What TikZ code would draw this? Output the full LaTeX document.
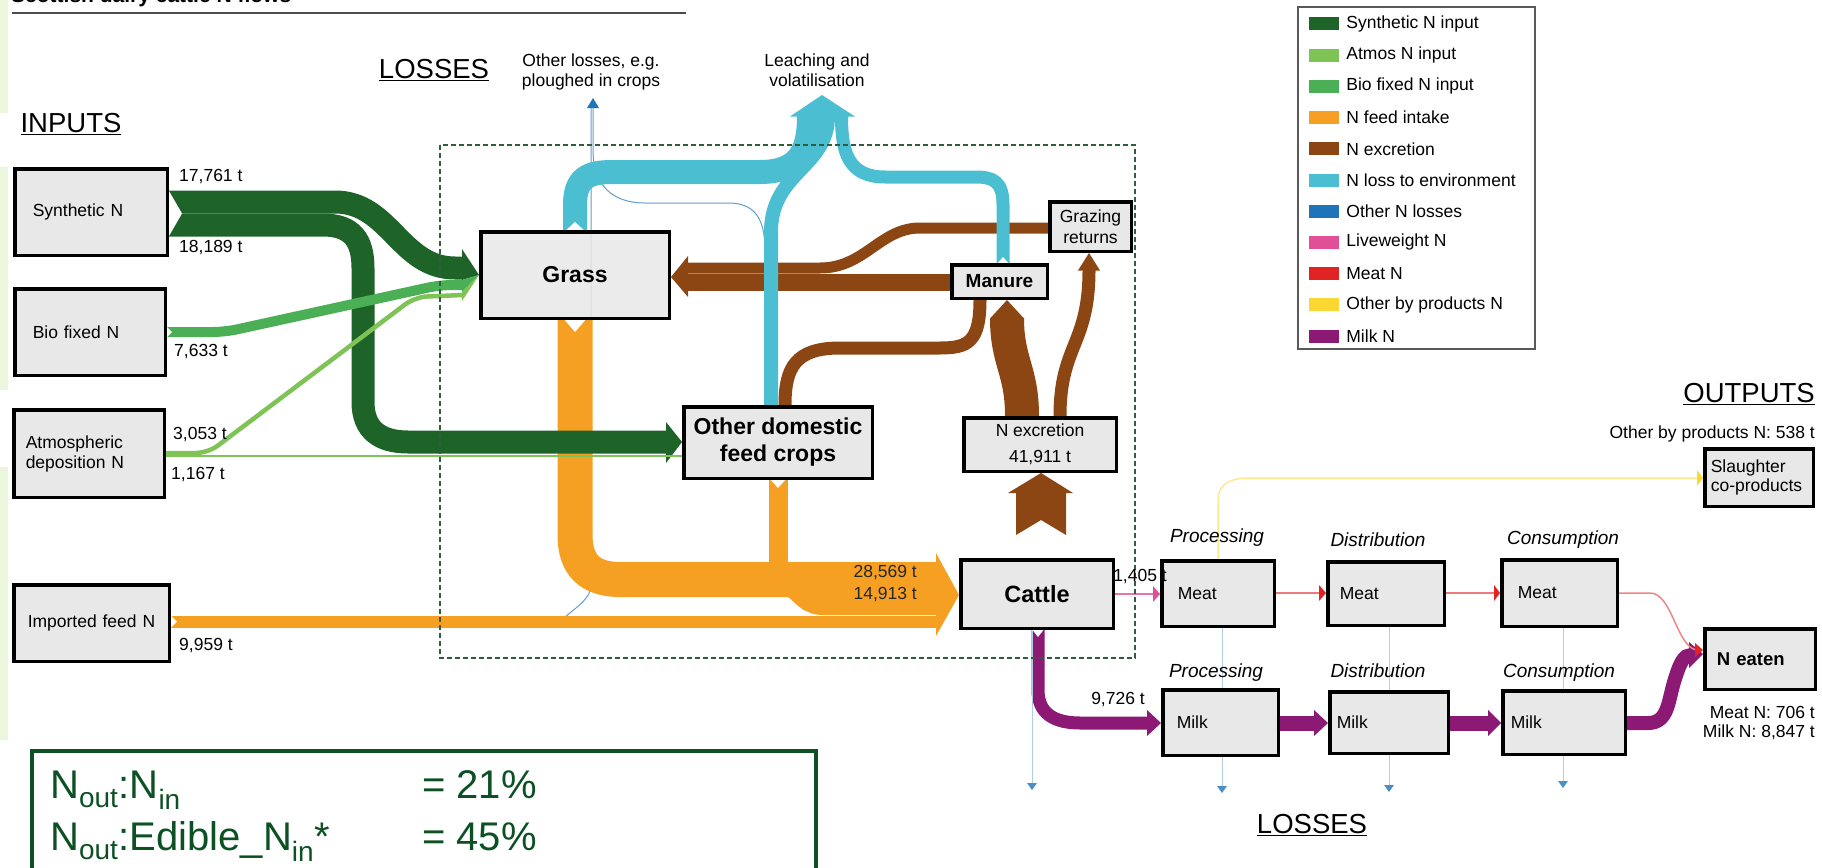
\documentclass[tikz,border=0pt]{standalone}
\usepackage{fontspec}
\setmainfont{Liberation Sans}
\usetikzlibrary{positioning,calc}
\pgfdeclarelayer{flows}
\pgfsetlayers{flows,main}

\definecolor{synN}{RGB}{30,100,40}
\definecolor{atmN}{RGB}{125,195,85}
\definecolor{bioN}{RGB}{75,175,85}
\definecolor{feedN}{RGB}{245,160,35}
\definecolor{excN}{RGB}{140,70,20}
\definecolor{lossN}{RGB}{75,190,210}
\definecolor{otherN}{RGB}{30,115,185}
\definecolor{liveN}{RGB}{225,80,150}
\definecolor{meatN}{RGB}{225,35,35}
\definecolor{byN}{RGB}{250,215,50}
\definecolor{milkN}{RGB}{140,25,115}
\definecolor{boxgray}{RGB}{232,232,232}
\definecolor{ratiogreen}{RGB}{12,80,35}
\definecolor{edgegreen}{RGB}{234,247,220}
\definecolor{boundgreen}{RGB}{46,94,62}

\begin{document}
\begin{tikzpicture}[
    x=1pt, y=-1pt,
    box/.style={draw=black, line width=3.5pt, fill=boxgray, inner sep=0pt, align=center, font=\fontsize{17.5}{21}\selectfont},
    sz/.style 2 args={minimum width=#1pt-3.5pt, minimum height=#2pt-3.5pt},
    lbox/.style 2 args={box, align=left, inner xsep=#1pt, text width=#2pt},
    bigbox/.style={box, font=\fontsize{23}{27}\selectfont\bfseries},
    lab/.style={inner sep=0pt, font=\fontsize{17.5}{20}\selectfont},
    stage/.style={inner sep=0pt, font=\fontsize{19}{22}\selectfont\itshape},
    heading/.style={inner sep=0pt, font=\fontsize{27.5}{30}\selectfont},
    ratiotxt/.style={inner sep=0pt, anchor=base west, text=ratiogreen, font=\fontsize{40}{46}\selectfont},
    flow/.style={line width=#1, line cap=butt},
    thin loss/.style={draw=otherN!70, line width=1pt},
    notch/.style={fill=white},
    swatch/.style={fill=#1, minimum width=30pt, minimum height=13pt, inner sep=0pt},
    legitem/.style={inner sep=0pt, font=\fontsize{17.5}{20}\selectfont}
]
\useasboundingbox (0,0) rectangle (1822,867);

% page edge and title
\fill[edgegreen] (0,0) rectangle (8,113);
\fill[edgegreen] (0,167) rectangle (8,390);
\fill[edgegreen] (0,467) rectangle (8,740);
\node[anchor=base west, inner sep=0pt, font=\fontsize{21}{24}\selectfont\bfseries] (title) at (11,3) {Scottish dairy cattle N flows};
\draw[black!70, line width=1.8pt] (12,13) -- (686,13);

% legend
\node[draw=black!65, line width=2pt, minimum width=237pt, minimum height=342pt, inner sep=0pt] (legend) at (1416.5,178) {};
\node[swatch=synN] (s1) at (1324,24) {};
\node[legitem, right=7pt of s1] (l1) {Synthetic N input};
\node[swatch=atmN, below=17.8pt of s1] (s2) {};
\node[legitem, right=7pt of s2] (l2) {Atmos N input};
\node[swatch=bioN, below=17.8pt of s2] (s3) {};
\node[legitem, right=7pt of s3] (l3) {Bio fixed N input};
\node[swatch=feedN, below=17.8pt of s3] (s4) {};
\node[legitem, right=7pt of s4] (l4) {N feed intake};
\node[swatch=excN, below=17.8pt of s4] (s5) {};
\node[legitem, right=7pt of s5] (l5) {N excretion};
\node[swatch=lossN, below=17.8pt of s5] (s6) {};
\node[legitem, right=7pt of s6] (l6) {N loss to environment};
\node[swatch=otherN, below=17.8pt of s6] (s7) {};
\node[legitem, right=7pt of s7] (l7) {Other N losses};
\node[swatch=liveN, below=17.8pt of s7] (s8) {};
\node[legitem, right=7pt of s8] (l8) {Liveweight N};
\node[swatch=meatN, below=17.8pt of s8] (s9) {};
\node[legitem, right=7pt of s9] (l9) {Meat N};
\node[swatch=byN, below=17.8pt of s9] (s10) {};
\node[legitem, right=7pt of s10] (l10) {Other by products N};
\node[swatch=milkN, below=17.8pt of s10] (s11) {};
\node[legitem, right=7pt of s11] (l11) {Milk N};

% headings
\node[heading] (inputs) at (71,124) {\underline{INPUTS}};
\node[heading] (losstop) at (434,70) {\underline{LOSSES}};
\node[heading, anchor=east] (outputs) at (1815,394) {\underline{OUTPUTS}};
\node[heading] (lossbot) at (1312,825) {\underline{LOSSES}};
\node[lab, align=center] (otherlab) at (591,72) {Other losses, e.g.\\ploughed in crops};
\node[lab, align=center] (leachlab) at (817,70) {Leaching and\\volatilisation};
\coordinate (othertip) at (593,98);
\coordinate (leachtip) at (822,95);

% farm boundary
\draw[boundgreen, line width=1.5pt, dash pattern=on 5pt off 3pt] (440,145) rectangle (1135,658);

% boxes
\node[lbox={18}{116.5}, sz={156}{90}] (synth) at (91,212) {Synthetic N};
\node[lbox={18}{114.5}, sz={154}{90}] (bio) at (90,332) {Bio fixed N};
\node[lbox={12}{126.5}, sz={154}{91}, font=\fontsize{17.5}{20}\selectfont] (atmos) at (89,453.5) {Atmospheric\\deposition N};
\node[lbox={14}{127.5}, sz={159}{80}] (imported) at (91.5,623) {Imported feed N};
\node[bigbox, sz={192}{90}, fill opacity=0.85, text opacity=1] (grass) at (575,275) {Grass};
\node[bigbox, sz={192}{75}] (crops) at (778,442.5) {Other domestic\\feed crops};
\node[box, sz={99}{37}, font=\fontsize{19}{22}\selectfont\bfseries] (manure) at (999.5,281.5) {Manure};
\node[box, sz={85}{53}] (grazing) at (1090.5,226.5) {Grazing\\returns};
\node[box, sz={156}{57}] (excretion) at (1040,444.5) {N excretion\\[5pt]41,911 t};
\node[bigbox, sz={156}{72}, font=\fontsize{23.5}{27}\selectfont\bfseries] (cattle) at (1037,594) {Cattle};
\node[lbox={16}{80.5}, sz={116}{69}] (meatP) at (1218,593.5) {Meat};
\node[lbox={12}{92.5}, sz={120}{67}] (meatD) at (1386,593.5) {Meat};
\node[lbox={16}{83.5}, sz={119}{70}] (meatC) at (1559.5,593) {Meat};
\node[lbox={14}{87.5}, sz={119}{69}] (milkP) at (1220.5,722.5) {Milk};
\node[lbox={7}{104.5}, sz={122}{65}] (milkD) at (1389,722.5) {Milk};
\node[lbox={8}{106.5}, sz={126}{67}] (milkC) at (1564,722.5) {Milk};
\node[lbox={6}{96.5}, sz={112}{61}, font=\fontsize{17.5}{19.5}\selectfont] (slaughter) at (1759,477.5) {Slaughter\\co-products};
\node[lbox={12}{86.5}, sz={114}{64}, font=\fontsize{18.5}{21}\selectfont\bfseries] (eaten) at (1760,659) {N eaten};

% stage labels
\node[stage] (pr1) at (1217,538) {Processing};
\node[stage] (di1) at (1378,540) {Distribution};
\node[stage] (co1) at (1563,540) {Consumption};
\node[stage] (pr2) at (1216,673) {Processing};
\node[stage] (di2) at (1378,671) {Distribution};
\node[stage] (co2) at (1559,673) {Consumption};

% values
\node[lab, anchor=west] (v1) at (179,177) {17,761 t};
\node[lab, anchor=west] (v2) at (179,248) {18,189 t};
\node[lab, anchor=west] (v3) at (174,352) {7,633 t};
\node[lab, anchor=west] (v4) at (173,435) {3,053 t};
\node[lab, anchor=west] (v5) at (171,475) {1,167 t};
\node[lab, anchor=west] (v6) at (179,646) {9,959 t};
\node[lab, anchor=east, text=black!85] (v7) at (917,573) {28,569 t};
\node[lab, anchor=east, text=black!85] (v8) at (917,595) {14,913 t};
\node[lab] (v9) at (1140,577) {1,405 t};
\node[lab] (v10) at (1118,700) {9,726 t};
\node[lab, anchor=east] (v11) at (1815,434) {Other by products N: 538 t};
\node[lab, anchor=east] (v12) at (1815,712) {Meat N: 706 t};
\node[lab, anchor=east] (v13) at (1815,732) {Milk N: 8,847 t};

% ratio box
\node[draw=ratiogreen, line width=4pt, fill=white, minimum width=784pt, minimum height=140pt, inner sep=0pt, anchor=north west] (ratio) at (30,749) {};
\node[ratiotxt] (r1) at (50,798) {N\textsubscript{out}:N\textsubscript{in}};
\node[ratiotxt] (r2) at (422,798) {= 21\%};
\node[ratiotxt] (r3) at (50,850) {N\textsubscript{out}:Edible\_N\textsubscript{in}*};
\node[ratiotxt] (r4) at (422,850) {= 45\%};

\begin{pgfonlayer}{flows}
% other losses (thin)
\draw[thin loss] (565,617) .. controls (578,606) and (591,598) .. (591,585) -- (591,108);
\draw[thin loss] (765,0 |- crops.north) -- (765,250) .. controls (765,215) and (752,203) .. (728,203) -- (645,203) .. controls (612,203) and (593,185) .. (593,150) -- (593,108);
\fill[otherN] (587,108) -- (othertip) -- (599,108) -- cycle;

% feed intake
\draw[flow=35pt, feedN] (grass.south) -- (575,535) .. controls (575,565) and (590,579.5) .. (620,579.5) -- (787,579.5) .. controls (805,579.5) and (805,597.5) .. (823,597.5) -- (937,597.5);
\draw[flow=19pt, feedN] (crops.south) -- (778,571.5) -- (937,571.5);
\draw[flow=12pt, feedN] (imported.east |- 0,621.5) -- (937,621.5);
\fill[feedN] (936,553) -- (cattle.west |- 0,595) -- (936,636) -- cycle;

% inputs
\draw[flow=23pt, synN] (synth.east |- 0,202) -- (335,202) .. controls (390,202) and (400,268) .. (455,268) -- (463,268);
\draw[flow=23pt, synN] (synth.east |- 0,225) -- (323,225) .. controls (352,225) and (363,240) .. (363,268) -- (363,402) .. controls (363,430) and (380,442) .. (408,442) -- (666,442);
\fill[synN] (666,422) -- (crops.west |- 0,442) -- (666,463) -- cycle;
\draw[flow=10pt, bioN, rounded corners=12pt] (bio.east |- 0,332) -- (225,332) -- (440,285) -- (463,285);
\draw[flow=4.5pt, atmN, rounded corners=12pt] (atmos.east |- 0,453) -- (208,453) -- (415,297) -- (463,295);
\draw[flow=2pt, atmN] (atmos.east |- 0,456) -- (crops.west |- 0,456);
\fill[synN] (462,249) -- (grass.west |- 0,275) -- (462,280) -- cycle;
\fill[bioN] (462,280) -- (grass.west |- 0,275) -- (462,292) -- cycle;
\fill[atmN] (462,292) -- (grass.west |- 0,275) -- (462,301) -- cycle;

% excretion
\draw[flow=17pt, excN] (manure.west |- 0,282) -- (688,282);
\draw[flow=11pt, excN] (grazing.west |- 0,228) -- (920,228) .. controls (880,228) and (865,268) .. (820,268) -- (688,268);
\fill[excN] (688,256) -- (grass.east |- 0,277) -- (688,297) -- cycle;
\draw[flow=34pt, excN] (1022,0 |- excretion.north) .. controls (1022,370) and (1007,362) .. (1007,318);
\fill[excN] (990,318.5) -- (1007,0 |- manure.south) -- (1024,318.5) -- cycle;
\draw[flow=13pt, excN] (1060,0 |- excretion.north) .. controls (1060,345) and (1089,345) .. (1089,270);
\fill[excN] (1078,270.5) -- (1089,0 |- grazing.south) -- (1100,270.5) -- cycle;
\draw[flow=13pt, excN] (980,0 |- manure.south) .. controls (980,342) and (968,348) .. (940,348) -- (840,348) .. controls (795,348) and (785,368) .. (785,0 |- crops.north);
\fill[excN] (1016,535) -- (1016,493) -- (1008,493) -- (1041,0 |- excretion.south) -- (1073,493) -- (1066,493) -- (1066,535) -- (1041,520) -- cycle;

% loss to environment
\draw[flow=24pt, lossN] (grass.north) -- (575,205) .. controls (575,178) and (588,172) .. (612,172) -- (760,172) .. controls (800,172) and (809,150) .. (809,116);
\draw[flow=14pt, lossN] (771,0 |- crops.north) -- (771,232) .. controls (771,172) and (828,168) .. (828,116);
\draw[flow=13pt, lossN] (1003,0 |- manure.north) -- (1003,205) .. controls (1003,181) and (993,177) .. (975,177) -- (885,177) .. controls (848,177) and (841.5,152) .. (841.5,116);
\fill[lossN] (790,116.5) -- (leachtip) -- (855,116.5) -- cycle;

% milk
\draw[flow=13pt, milkN] (1038,0 |- cattle.south) -- (1038,690) .. controls (1038,714) and (1055,723) .. (1080,723) -- (1147,723);
\fill[milkN] (1147,710) -- (milkP.west |- 0,723) -- (1147,736) -- cycle;
\draw[flow=15pt, milkN] (milkP.east |- 0,723) -- (1314,723);
\fill[milkN] (1314,710) -- (milkD.west |- 0,723) -- (1314,736) -- cycle;
\draw[flow=15pt, milkN] (milkD.east |- 0,723) -- (1488,723);
\fill[milkN] (1488,710) -- (milkC.west |- 0,723) -- (1488,736) -- cycle;
\draw[flow=14pt, milkN] (milkC.east |- 0,723) -- (1648,723) .. controls (1668,723) and (1668,702) .. (1674,682) .. controls (1680,662) and (1684,655) .. (1691,655);
\fill[milkN] (1689,642) -- (eaten.west |- 0,654) -- (1689,668) -- cycle;

% liveweight, meat, by products
\draw[liveN!80, line width=1.5pt] (cattle.east |- 0,594) -- (1153,594);
\fill[liveN] (1153,586) -- (meatP.west |- 0,594) -- (1153,602) -- cycle;
\draw[meatN!60, line width=1.5pt] (meatP.east |- 0,593) -- (1319,593);
\fill[meatN] (1319,585) -- (meatD.west |- 0,593) -- (1319,601) -- cycle;
\draw[meatN!60, line width=1.5pt] (meatD.east |- 0,593) -- (1494,593);
\fill[meatN] (1494,585) -- (meatC.west |- 0,593) -- (1494,601) -- cycle;
\draw[meatN!55, line width=1.5pt] (meatC.east |- 0,593) -- (1650,593) .. controls (1672,593) and (1676,645) .. (1696,650);
\fill[meatN] (1695,643) -- (eaten.west |- 0,650) -- (1695,657) -- cycle;
\draw[byN!55, line width=1.5pt] (1218,0 |- meatP.north) -- (1218,500) .. controls (1218,484) and (1230,478) .. (1250,478) -- (1697,478);
\fill[byN] (1697,470) -- (slaughter.west |- 0,478) -- (1697,486) -- cycle;

% losses along the chain
\coordinate (loss1) at (1032,783);
\coordinate (loss2) at (1222,786);
\coordinate (loss3) at (1389,785);
\coordinate (loss4) at (1563,781);
\draw[thin loss, draw=otherN!35] (1032,0 |- cattle.south) -- (loss1);
\draw[thin loss, draw=otherN!35] (1222,0 |- meatP.south) -- (loss2);
\draw[thin loss, draw=otherN!35] (1389,0 |- meatD.south) -- (loss3);
\draw[thin loss, draw=otherN!35] (1563,0 |- meatC.south) -- (loss4);
\fill[otherN!80] (loss1) ++(-5,0) -- ++(10,0) -- ++(-5,7) -- cycle;
\fill[otherN!80] (loss2) ++(-5,0) -- ++(10,0) -- ++(-5,7) -- cycle;
\fill[otherN!80] (loss3) ++(-5,0) -- ++(10,0) -- ++(-5,7) -- cycle;
\fill[otherN!80] (loss4) ++(-5,0) -- ++(10,0) -- ++(-5,7) -- cycle;

% tails
\fill[notch] (synth.east |- 0,191) -- (182,213.5) -- (synth.east |- 0,236) -- cycle;
\fill[notch] (bio.east |- 0,327) -- (172,332) -- (bio.east |- 0,337) -- cycle;
\fill[notch] (imported.east |- 0,615.5) -- (177,621.5) -- (imported.east |- 0,627.5) -- cycle;
\fill[notch] (563,318) -- (575,332) -- (587,318) -- cycle;
\fill[notch] (563,233) -- (575,222) -- (587,233) -- cycle;
\fill[notch] (769,478) -- (778,488) -- (787,478) -- cycle;
\fill[notch] (1031,628) -- (1038,637) -- (1045,628) -- cycle;
\fill[notch] (996,265) -- (1003,257) -- (1010,265) -- cycle;
\end{pgfonlayer}

\end{tikzpicture}
\end{document}
